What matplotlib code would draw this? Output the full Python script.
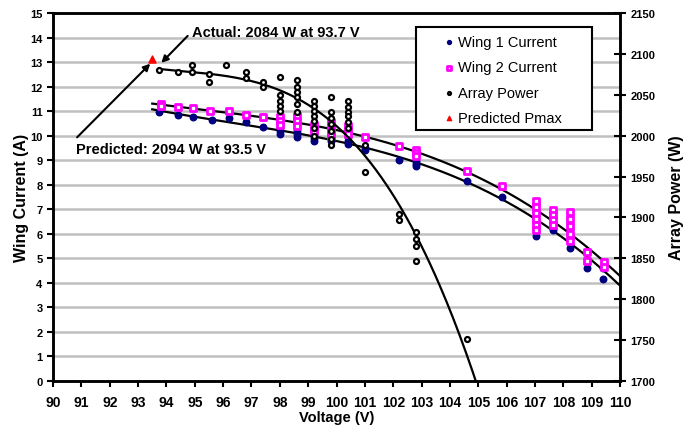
import numpy as np
import matplotlib
matplotlib.use('Agg')
import matplotlib.pyplot as plt
from matplotlib.patches import Rectangle

plt.rcParams['font.family'] = ['Liberation Sans', 'DejaVu Sans']

# Wing 1 current (A) vs voltage (V)
wing1_v = [93.75, 94.4, 94.95, 95.6, 96.2, 96.8, 97.4,
           98.0, 98.0, 98.0, 98.6, 98.6, 98.6, 99.2, 99.2, 99.2,
           99.8, 99.8, 100.4, 100.4, 100.4, 101.0, 101.0, 102.2,
           102.8, 102.8, 102.8, 104.6, 105.85,
           107.05, 107.05, 107.05, 107.05, 107.65, 107.65,
           108.25, 108.25, 108.25, 108.85, 109.4, 109.4]
wing1_i = [10.97, 10.84, 10.76, 10.64, 10.72, 10.56, 10.35,
           10.35, 10.2, 10.05, 10.2, 10.05, 9.95, 10.05, 9.9, 9.78,
           9.95, 9.8, 9.95, 9.8, 9.66, 9.5, 9.4, 9.0,
           8.95, 8.85, 8.75, 8.15, 7.5,
           6.9, 6.6, 6.3, 5.9, 6.25, 6.15,
           6.4, 6.2, 5.42, 4.6, 4.6, 4.15]

# Wing 2 current (A) vs voltage (V)
wing2_v = [93.8, 93.8, 94.4, 94.95, 95.55, 96.2, 96.8, 97.4,
           98.0, 98.0, 98.0, 98.6, 98.6, 98.6, 99.2, 99.2, 99.2,
           99.8, 99.8, 99.8, 99.8, 100.4, 100.4, 100.4, 101.0, 102.2,
           102.8, 102.8, 102.8, 104.6, 105.85,
           107.05, 107.05, 107.05, 107.05, 107.05, 107.05,
           107.65, 107.65, 107.65, 107.65,
           108.25, 108.25, 108.25, 108.25, 108.25,
           108.85, 108.85, 109.45, 109.45]
wing2_i = [11.3, 11.2, 11.17, 11.13, 11.0, 11.0, 10.84, 10.76,
           10.75, 10.6, 10.45, 10.8, 10.6, 10.4, 10.45, 10.3, 10.2,
           10.55, 10.35, 10.15, 10.0, 10.4, 10.25, 10.07, 9.95, 9.58,
           9.42, 9.3, 9.17, 8.56, 7.95,
           7.35, 7.1, 6.85, 6.6, 6.35, 6.15,
           6.95, 6.75, 6.55, 6.35,
           6.9, 6.6, 6.3, 6.0, 5.7,
           5.26, 4.9, 4.85, 4.65]

# Array power (W) vs voltage (V)
power_v = [93.75, 94.4, 94.9, 94.9, 95.5, 95.5, 96.1, 96.8, 96.8, 97.4, 97.4,
           98.0, 98.0, 98.0, 98.0, 98.0,
           98.6, 98.6, 98.6, 98.6, 98.6, 98.6,
           99.2, 99.2, 99.2, 99.2, 99.2, 99.2, 99.2,
           99.8, 99.8, 99.8, 99.8, 99.8, 99.8, 99.8,
           100.4, 100.4, 100.4, 100.4, 100.4, 100.4,
           101.0, 101.0, 102.2, 102.2,
           102.8, 102.8, 102.8, 102.8, 104.6]
power_w = [2080, 2078, 2087, 2078, 2075, 2066, 2087, 2078, 2071, 2066, 2060,
           2072, 2050, 2042, 2036, 2030,
           2068, 2060, 2054, 2047, 2039, 2029,
           2042, 2036, 2030, 2024, 2018, 2009, 2000,
           2047, 2029, 2021, 2014, 2006, 1996, 1988,
           2042, 2035, 2029, 2024, 2017, 2009,
           1955, 1988, 1904, 1897,
           1882, 1874, 1865, 1847, 1751]

pmax_v = [93.5]
pmax_w = [2094]

fig = plt.figure(figsize=(6.92, 4.31), dpi=100)
ax = fig.add_axes([0.0766, 0.1137, 0.8194, 0.8538])
ax2 = ax.twinx()

# trendlines
fit1 = np.polyfit(wing1_v, wing1_i, 3)
fit2 = np.polyfit(wing2_v, wing2_i, 3)
vv = np.linspace(93.5, 110, 200)
ax.plot(vv, np.polyval(fit1, vv), color='black', lw=1.6, zorder=3)
ax.plot(vv, np.polyval(fit2, vv), color='black', lw=1.6, zorder=3)
fitp = np.polyfit(power_v, power_w, 3)
vp = np.linspace(93.75, 105.2, 200)
ax2.plot(vp, np.polyval(fitp, vp), color='black', lw=1.6, zorder=3)

ax.scatter(wing1_v, wing1_i, s=22, color='#000080', zorder=4, label='Wing 1 Current')
ax.scatter(wing2_v, wing2_i, s=17, marker='s', facecolor='white',
           edgecolor='#FF00FF', linewidths=2.0, zorder=4, label='Wing 2 Current')
ax2.scatter(power_v, power_w, s=13, facecolor='white', edgecolor='black',
            linewidths=1.6, zorder=4, label='Array Power')
ax2.scatter(pmax_v, pmax_w, s=26, marker='^', color='red', zorder=5,
            label='Predicted Pmax')

ax.set_xlim(90, 110)
ax.set_ylim(0, 15)
ax2.set_ylim(1700, 2150)
ax.set_xticks(range(90, 111))
ax.set_yticks(range(0, 16))
ax2.set_yticks(range(1700, 2151, 50))
ax.yaxis.grid(True, color='#C0C0C0', lw=1.8)
ax.set_axisbelow(True)

for a in (ax, ax2):
    for s in a.spines.values():
        s.set_linewidth(1.8)
ax.tick_params(axis='x', direction='out', length=4, width=1.5, labelsize=10, pad=6)
ax.tick_params(axis='y', direction='out', length=4, width=1.5, labelsize=8)
ax2.tick_params(axis='y', direction='inout', length=8, width=1.5, labelsize=8)
for lab in ax.get_xticklabels() + ax.get_yticklabels() + ax2.get_yticklabels():
    lab.set_fontweight('bold')

ax.set_xlabel('Voltage (V)', fontsize=10.5, fontweight='bold', labelpad=1)
ax.set_ylabel('Wing Current (A)', fontsize=11.5, fontweight='bold', labelpad=1)
ax2.set_ylabel('Array Power (W)', fontsize=11.5, fontweight='bold', labelpad=10)

# annotations: arrows and text placed separately
ax2.annotate('', xy=(93.82, 2089), xytext=(94.75, 2122),
             arrowprops=dict(arrowstyle='-|>', color='black', lw=1.5,
                             shrinkA=0, shrinkB=0, mutation_scale=10))
ax2.text(94.9, 2127, 'Actual: 2084 W at 93.7 V', fontsize=10.5,
         fontweight='bold', va='center')
ax2.annotate('', xy=(93.43, 2088), xytext=(90.85, 1998),
             arrowprops=dict(arrowstyle='-|>', color='black', lw=1.5,
                             shrinkA=0, shrinkB=0, mutation_scale=10))
ax2.text(90.82, 1984, 'Predicted: 2094 W at 93.5 V', fontsize=10.5,
         fontweight='bold', va='center')

# legend with a hand-placed frame
h1, l1 = ax.get_legend_handles_labels()
h2, l2 = ax2.get_legend_handles_labels()
leg = ax2.legend(h1 + h2, l1 + l2, loc='upper left',
                 bbox_to_anchor=((443 - 53) / 567, (382 - 36) / 368),
                 fontsize=10.5, frameon=False, markerscale=0.6,
                 handlelength=0.8, handletextpad=0.25, labelspacing=0.78,
                 borderpad=0, borderaxespad=0)
leg.set_zorder(10)
ax2.add_patch(Rectangle((416 / 692, 1 - 131 / 431), 176 / 692, 103 / 431,
                        transform=fig.transFigure, facecolor='white',
                        edgecolor='black', lw=1.5, zorder=8, clip_on=False))

fig.savefig('out.png', dpi=100)
